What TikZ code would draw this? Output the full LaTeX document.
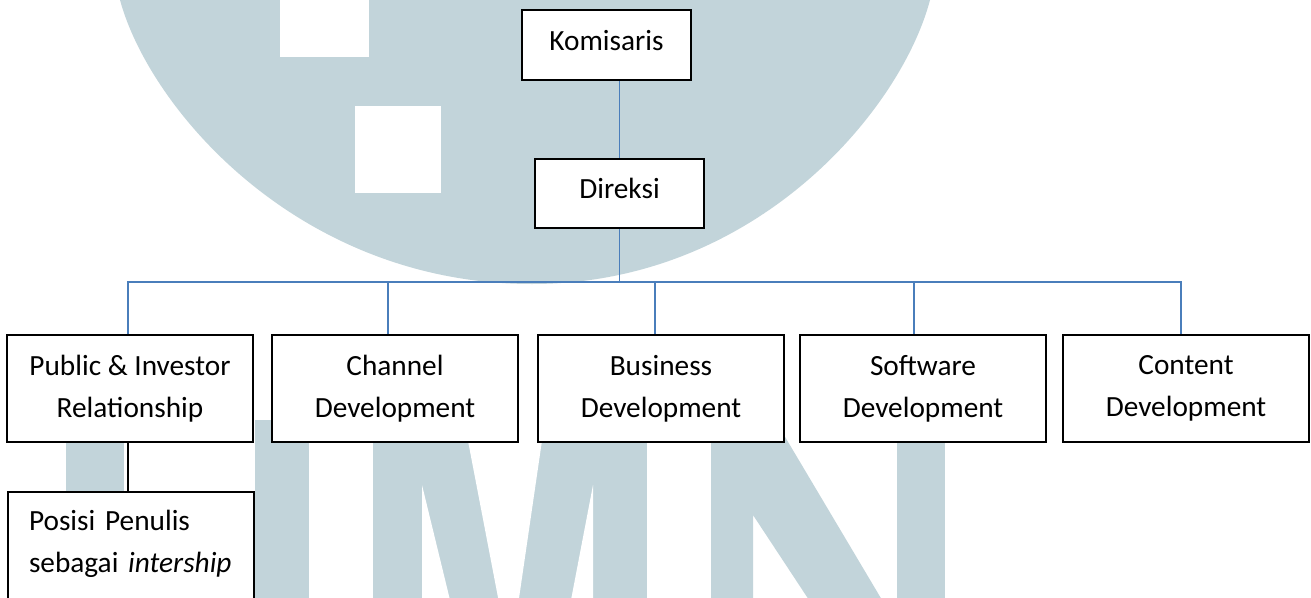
\documentclass[tikz,border=0pt]{standalone}
\usepackage{fontspec}
\setmainfont{Carlito}
\usetikzlibrary{calc}
\definecolor{wm}{RGB}{194,212,218}
\definecolor{connblue}{RGB}{74,126,187}
\begin{document}
\begin{tikzpicture}[x=1pt,y=-1pt,
  box/.style={draw=black, line width=2pt, fill=white, inner sep=0pt, align=center,
    font=\fontsize{29.3}{42}\selectfont},
  oneline/.style={text height=19pt, text depth=9pt},
  bline/.style={draw=connblue, line width=1.5pt},
  kline/.style={draw=black, line width=2pt}]
\useasboundingbox (0,0) rectangle (1311,597);
\clip (0,0) rectangle (1311,597);
\fill[white] (0,0) rectangle (1311,597);
% watermark: shield
\fill[wm] (118,-4) -- (120,0) .. controls (150,110) and (300,284) .. (532,284)
  .. controls (756,284) and (901,110) .. (930,0) -- (932,-4) -- cycle;
\fill[white] (280,-5) rectangle (369,57);
\fill[white] (355,106) rectangle (441,193);
% watermark: U
\fill[wm] (66,420) rectangle (124,600);
\fill[wm] (255,420) rectangle (309,600);
% watermark: M
\fill[wm] (373,420) rectangle (647,600);
\fill[white] (422,485) -- (450,600) -- (422,600) -- cycle;
\fill[white] (464,420) -- (545,420) -- (510,660) -- cycle;
\fill[white] (593,485) -- (593,600) -- (571,600) -- cycle;
% watermark: N
\fill[wm] (711,420) -- (775,420) -- (882,600) -- (809,600) -- (753,515) -- (753,600) -- (711,600) -- cycle;
\fill[wm] (897,420) rectangle (945,600);

% boxes
\node[box, oneline, minimum width=169pt, minimum height=70pt] (kom) at (606.5,45) {Komisaris};
\node[box, oneline, minimum width=169pt, minimum height=69pt] (dir) at (619.5,193.5) {Direksi};
\node[box, minimum width=246pt, minimum height=107pt] (pir) at (130,388.5) {Public \& Investor\\Relationship};
\node[box, minimum width=246pt, minimum height=107pt] (chan) at (395,388.5) {Channel\\Development};
\node[box, minimum width=246pt, minimum height=107pt] (busi) at (661,388.5) {Business\\Development};
\node[box, minimum width=246pt, minimum height=107pt] (soft) at (923,388.5) {Software\\Development};
\node[box, minimum width=246pt, minimum height=107pt] (cont) at (1186,388.5) {Content\\Development};
\node[box, anchor=north west, align=left, text width=226pt, inner xsep=10pt, inner ysep=0pt] (pos) at (7,491)
  {\rule{0pt}{38pt}\hspace*{11pt}\mbox{Posisi Penulis}\\\hspace*{11pt}\mbox{sebagai \textit{intership}}\rule[-80pt]{0pt}{0pt}};

% connectors
\coordinate (busy) at (0,282);
\coordinate (d1) at ($(pir.north)+(-2,0)$);
\coordinate (d2) at ($(chan.north)+(-7,0)$);
\coordinate (d3) at ($(busi.north)+(-6,0)$);
\coordinate (d4) at ($(soft.north)+(-9,0)$);
\coordinate (d5) at ($(cont.north)+(-5,0)$);
\draw[bline] (kom.south -| dir.north) -- (dir.north);
\draw[bline] (dir.south) -- (dir.south |- busy);
\draw[bline] (d1) -- (d1 |- busy) -- (d5 |- busy) -- (d5);
\draw[bline] (d2 |- busy) -- (d2);
\draw[bline] (d3 |- busy) -- (d3);
\draw[bline] (d4 |- busy) -- (d4);
\draw[kline] (pir.south -| d1) -- (pos.north -| d1);
\end{tikzpicture}
\end{document}
